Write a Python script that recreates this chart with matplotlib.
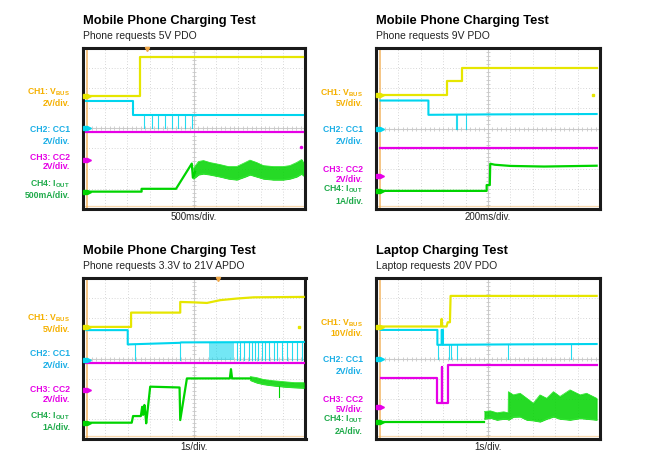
import matplotlib
matplotlib.use('Agg')
import matplotlib.pyplot as plt
import numpy as np

W, H = 653, 467
plt.rcParams['font.family'] = ['Liberation Sans', 'DejaVu Sans']
plt.rcParams['mathtext.fontset'] = 'custom'
plt.rcParams['mathtext.bf'] = 'Liberation Sans:bold'
plt.rcParams['mathtext.rm'] = 'Liberation Sans'
plt.rcParams['mathtext.it'] = 'Liberation Sans:italic'

# ---------------- text data ----------------
titles = ['Mobile Phone Charging Test', 'Mobile Phone Charging Test',
          'Mobile Phone Charging Test', 'Laptop Charging Test']
subtitles = ['Phone requests 5V PDO', 'Phone requests 9V PDO',
             'Phone requests 3.3V to 21V APDO', 'Laptop requests 20V PDO']
timebase = ['500ms/div.', '200ms/div.', '1s/div.', '1s/div.']
ch_names = [r'CH1: V$_\mathbf{BUS}$', 'CH2: CC1', 'CH3: CC2', r'CH4: I$_\mathbf{OUT}$']
scales = [['2V/div.', '2V/div.', '2V/div.', '500mA/div.'],
          ['5V/div.', '2V/div.', '2V/div.', '1A/div.'],
          ['5V/div.', '2V/div.', '2V/div.', '1A/div.'],
          ['10V/div.', '2V/div.', '5V/div.', '2A/div.']]

# ---------------- trace data (divisions: x 0..10, y 0..8) ----------------
# Panel 1
p1_vbus_x = [0.1, 2.57, 2.57, 9.92]
p1_vbus_y = [5.6, 5.6, 7.52, 7.52]
p1_cc1_x = [0.15, 2.27, 2.27, 9.92]
p1_cc1_y = [5.36, 5.36, 4.65, 4.65]
p1_cc1_spikes = [2.76, 3.09, 3.39, 3.69, 3.99, 4.29, 4.59, 4.9]
p1_cc2_x = [0.15, 9.92]
p1_cc2_y = [3.83, 3.83]
p1_iout_x = [0.1, 2.64, 2.64, 4.19, 4.9, 4.95, 5.05]
p1_iout_y = [0.86, 0.86, 1.0, 1.0, 2.25, 1.55, 1.85]
p1_iout_spikes = []
p1_band_x = [4.97, 5.2, 5.42, 5.72, 6.17, 6.55, 6.92, 7.3, 7.52, 7.82, 8.12, 8.57, 9.02, 9.32, 9.62, 9.85, 9.92]
p1_band_hi = [2.0, 2.35, 2.4, 2.3, 2.2, 2.1, 2.1, 2.3, 2.42, 2.3, 2.15, 2.1, 2.1, 2.15, 2.3, 2.45, 2.3]
p1_band_lo = [1.5, 1.7, 1.75, 1.7, 1.6, 1.5, 1.45, 1.6, 1.7, 1.6, 1.5, 1.45, 1.45, 1.5, 1.6, 1.75, 1.65]
p1_markers = [5.6, 4.0, 2.43, 0.86]

# Panel 2
p2_vbus_x = [0.1, 3.15, 3.15, 3.83, 3.83, 9.85]
p2_vbus_y = [5.67, 5.67, 6.37, 6.37, 7.03, 7.03]
p2_cc1_x = [0.2, 2.34, 2.34, 5.0, 9.85]
p2_cc1_y = [5.39, 5.39, 4.68, 4.70, 4.72]
p2_cc1_spikes = [3.57, 3.62, 4.0]
p2_cc2_x = [0.2, 9.85]
p2_cc2_y = [3.05, 3.05]
p2_iout_x = [0.1, 4.94, 4.94, 5.08, 5.1, 5.3, 6.0, 7.5, 9.85]
p2_iout_y = [0.9, 0.9, 1.19, 1.19, 2.25, 2.2, 2.14, 2.11, 2.15]
p2_iout_spikes = []
p2_band_x = []
p2_band_hi = []
p2_band_lo = []
p2_markers = [5.67, 4.0, 1.64, 0.9]

# Panel 3
p3_vbus_x = [0.1, 2.16, 2.16, 4.37, 4.37, 4.97, 5.57, 6.17, 6.92, 7.67, 9.92]
p3_vbus_y = [5.57, 5.57, 6.28, 6.28, 6.81, 6.79, 6.76, 6.9, 6.98, 7.04, 7.06]
p3_cc1_x = [0.15, 2.01, 2.01, 4.37, 4.4, 9.92]
p3_cc1_y = [5.41, 5.41, 4.7, 4.78, 4.8, 4.82]
p3_cc1_spikes = [2.34, 4.37, 6.92, 7.07, 7.25, 7.45, 7.6, 7.75, 7.85, 8.05, 8.2,
                 8.35, 8.57, 8.72, 8.95, 9.17, 9.4, 9.62, 9.85]
p3_cc1_dense = [5.65, 6.77]
p3_cc2_x = [0.15, 9.92]
p3_cc2_y = [3.8, 3.8]
p3_iout_x = [0.1, 2.19, 2.25, 2.6, 2.66, 2.7, 2.76, 2.8, 2.84, 3.02, 4.34, 4.37, 4.67, 6.6, 6.65, 6.7, 7.52]
p3_iout_y = [0.81, 0.81, 1.14, 1.14, 1.6, 1.2, 1.69, 1.3, 0.78, 2.6, 2.56, 0.94, 3.01, 3.01, 3.47, 3.01, 3.01]
p3_iout_spikes = [(8.8, 2.07)]
p3_band_x = [7.52, 7.8, 8.1, 8.5, 9.0, 9.5, 9.92]
p3_band_hi = [3.1, 3.05, 2.96, 2.9, 2.85, 2.8, 2.8]
p3_band_lo = [2.92, 2.8, 2.72, 2.66, 2.6, 2.56, 2.54]
p3_markers = [5.57, 3.92, 2.41, 0.81]

# Panel 4
p4_vbus_x = [0.1, 2.9, 2.93, 2.96, 3.15, 3.2, 3.3, 3.33, 9.85]
p4_vbus_y = [5.59, 5.59, 5.97, 5.59, 5.59, 5.8, 5.8, 7.11, 7.11]
p4_cc1_x = [0.2, 2.74, 2.74, 2.93, 2.93, 2.99, 2.99, 5.91, 9.85]
p4_cc1_y = [5.42, 5.42, 4.68, 4.68, 5.42, 5.42, 4.68, 4.70, 4.72]
p4_cc1_spikes = [2.78, 3.27, 3.35, 3.6, 5.91, 8.69]
p4_cc2_x = [0.22, 2.74, 2.74, 2.93, 2.93, 2.96, 2.96, 3.2, 3.2, 9.85]
p4_cc2_y = [3.05, 3.05, 1.77, 1.77, 3.6, 3.6, 1.77, 1.77, 3.68, 3.68]
p4_iout_x = [0.1, 4.84]
p4_iout_y = [0.86, 0.86]
p4_iout_spikes = []
p4_band_x = [4.84, 5.1, 5.4, 5.7, 5.9, 5.91, 6.13, 6.43, 6.73, 7.02, 7.32, 7.62, 7.92, 8.21, 8.66, 9.11, 9.4, 9.85]
p4_band_hi = [1.36, 1.4, 1.3, 1.35, 1.3, 2.35, 2.19, 2.27, 2.02, 1.77, 2.19, 2.02, 2.35, 2.11, 2.44, 2.19, 2.27, 2.02]
p4_band_lo = [1.0, 1.05, 0.95, 1.0, 0.98, 0.95, 1.1, 1.11, 0.95, 0.92, 0.86, 1.0, 1.11, 1.0, 0.95, 1.03, 1.0, 0.95]
p4_markers = [5.59, 4.0, 1.61, 0.86]

trigger_marks = [2.9, None, 6.07, None]

# ---------------- colours ----------------
c_yel = '#E6E600'
c_cyan = '#00D5EE'
c_mag = '#E600E6'
c_grn = '#00D400'
lab_cols = ['#F5B000', '#1AAEE6', '#E600E6', '#1EAA4A']
c_orange = '#F0A848'

# ---------------- layout (pixels) ----------------
boxes = [(83, 305, 47.5, 209), (376, 600, 48, 209),
         (83, 305.5, 278, 439), (376, 600, 278, 439)]
label_right = [70, 363, 70, 363]
label_y = [[92.5, 104, 129.5, 141, 157, 166.5, 184, 196],
           [93, 104, 129, 141, 170, 179, 189, 202],
           [318, 330, 354, 366, 390, 399, 416, 428],
           [323, 334, 359, 371, 400, 409, 419, 432]]
title_y = [21, 21, 251, 251]
sub_y = [36, 36, 266, 266]
tb_y = [217, 217, 447, 447]

fig = plt.figure(figsize=(W / 100, H / 100), dpi=100)
fig.patch.set_facecolor('white')


def fx(x):
    return x / W


def fy(y):
    return 1 - y / H


panels = [
    (p1_vbus_x, p1_vbus_y, p1_cc1_x, p1_cc1_y, p1_cc1_spikes, p1_cc2_x, p1_cc2_y,
     p1_iout_x, p1_iout_y, p1_iout_spikes, p1_band_x, p1_band_hi, p1_band_lo, p1_markers),
    (p2_vbus_x, p2_vbus_y, p2_cc1_x, p2_cc1_y, p2_cc1_spikes, p2_cc2_x, p2_cc2_y,
     p2_iout_x, p2_iout_y, p2_iout_spikes, p2_band_x, p2_band_hi, p2_band_lo, p2_markers),
    (p3_vbus_x, p3_vbus_y, p3_cc1_x, p3_cc1_y, p3_cc1_spikes, p3_cc2_x, p3_cc2_y,
     p3_iout_x, p3_iout_y, p3_iout_spikes, p3_band_x, p3_band_hi, p3_band_lo, p3_markers),
    (p4_vbus_x, p4_vbus_y, p4_cc1_x, p4_cc1_y, p4_cc1_spikes, p4_cc2_x, p4_cc2_y,
     p4_iout_x, p4_iout_y, p4_iout_spikes, p4_band_x, p4_band_hi, p4_band_lo, p4_markers),
]

for k, (l, r, t, b) in enumerate(boxes):
    ax = fig.add_axes([fx(l), fy(b), (r - l) / W, (b - t) / H])
    ax.set_xlim(0, 10)
    ax.set_ylim(0, 8)
    ax.set_xticks([])
    ax.set_yticks([])
    for s in ax.spines.values():
        s.set_linewidth(2.2)
        s.set_color('#1a1a1a')
    # grid
    for i in range(1, 10):
        if i != 5:
            ax.axvline(i, color='#CACACA', lw=0.6, ls=(0, (1, 2.4)), zorder=0)
    for j in range(1, 8):
        if j != 4:
            ax.axhline(j, color='#CACACA', lw=0.6, ls=(0, (1, 2.4)), zorder=0)
    ax.axvline(5, color='#CCCCCC', lw=0.8, zorder=0)
    ax.axhline(4, color='#CCCCCC', lw=0.8, zorder=0)
    tk = np.arange(0.2, 10, 0.2)
    ax.plot(tk, np.full_like(tk, 4.0), ls='none', marker='|', ms=2.5,
            mew=0.6, color='#C8C8C8', zorder=0)
    tky = np.arange(0.2, 8, 0.2)
    ax.plot(np.full_like(tky, 5.0), tky, ls='none', marker='_', ms=2.5,
            mew=0.6, color='#C8C8C8', zorder=0)
    # orange reference lines
    ax.axvline(0.18, color=c_orange, lw=1.1, alpha=0.85, zorder=1)
    ax.axhline(0.14, color=c_orange, lw=0.9, alpha=0.45, zorder=1)

    (vx, vy, cx, cy, csp, mx, my, ix, iy, isp, bx, bhi, blo, mk) = panels[k]
    # CC2
    ax.plot(mx, my, color=c_mag, lw=1.6, zorder=3)
    # CC1
    ax.plot(cx, cy, color=c_cyan, lw=1.5, zorder=4)
    if k == 2:
        ax.fill_between(p3_cc1_dense, [3.92, 3.92], [4.8, 4.8],
                        color=c_cyan, alpha=0.55, lw=0, zorder=4)
    for sx in csp:
        lvl = float(np.interp(sx, cx, cy))
        ax.plot([sx, sx], [lvl, 4.0 if k != 2 else 3.92], color=c_cyan,
                lw=0.8, alpha=0.85, zorder=4)
    # VBUS
    ax.plot(vx, vy, color=c_yel, lw=1.6, zorder=5)
    # IOUT
    ax.plot(ix, iy, color=c_grn, lw=1.6, zorder=6)
    if bx:
        ax.fill_between(bx, blo, bhi, color=c_grn, lw=0.6, alpha=0.85, zorder=6)
        ax.plot(bx, bhi, color='#33E833', lw=0.6, zorder=6)
        ax.plot(bx, blo, color='#33E833', lw=0.6, zorder=6)
    for sx, sy in isp:
        lvl = float(np.interp(sx, bx, blo))
        ax.plot([sx, sx], [lvl, sy], color=c_grn, lw=0.8, zorder=6)
    # ground markers on the left
    for lv, col in zip(mk, [c_yel, c_cyan, c_mag, c_grn]):
        ax.plot(0.1, lv, marker='s', ms=2.8, color=col, zorder=7, clip_on=False)
        ax.plot(0.25, lv, marker='>', ms=2.8, color=col, zorder=7, clip_on=False)
    if trigger_marks[k] is not None:
        ax.plot(trigger_marks[k], 7.93, marker='v', ms=3, color=c_orange,
                zorder=7, clip_on=False)
    if k == 0:
        ax.plot(9.82, 3.05, marker='o', ms=1.5, color=c_mag, zorder=7)
    if k in (1, 2):
        ax.plot(9.7, vy[0], marker='s', ms=1.5, color=c_yel, zorder=7)

    # texts
    fig.text(fx(l), fy(title_y[k]), titles[k], fontsize=9.3, fontweight='bold',
             va='center', ha='left')
    fig.text(fx(l), fy(sub_y[k]), subtitles[k], fontsize=7.5,
             va='center', ha='left', color='#222222')
    fig.text(fx((l + r) / 2), fy(tb_y[k]), timebase[k], fontsize=7,
             va='center', ha='center', color='#222222')
    for n in range(4):
        fig.text(fx(label_right[k]), fy(label_y[k][2 * n]), ch_names[n],
                 fontsize=6.2, fontweight='bold', color=lab_cols[n],
                 ha='right', va='center')
        fig.text(fx(label_right[k]), fy(label_y[k][2 * n + 1]), scales[k][n],
                 fontsize=6.2, fontweight='bold', color=lab_cols[n],
                 ha='right', va='center')

fig.savefig('out.png', dpi=100, facecolor='white')
